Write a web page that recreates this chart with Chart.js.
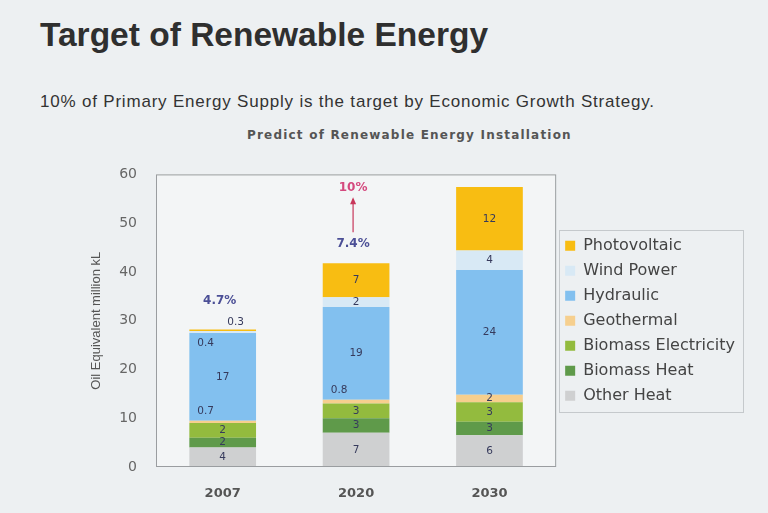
<!DOCTYPE html>
<html>
<head>
<meta charset="utf-8">
<script src="https://cdn.jsdelivr.net/npm/chart.js@4.4.1/dist/chart.umd.min.js"></script>
<style>
  html, body { margin: 0; padding: 0; }
  body {
    width: 768px; height: 513px; overflow: hidden; position: relative;
    background: #edf0f2;
    font-family: "Liberation Sans", Arial, sans-serif;
  }
  #title { position: absolute; left: 40px; top: 16px; font-size: 33.5px; font-weight: bold; color: #2f2f2f; }
  #subtitle { position: absolute; left: 40px; top: 92px; font-size: 17px; letter-spacing: 0.8px; color: #333; }
  #chartTitle {
    position: absolute; left: 247px; top: 128px;
    font-family: "DejaVu Sans", sans-serif; font-weight: bold; font-size: 12px;
    letter-spacing: 1.2px; color: #555;
  }
  #wrap { position: absolute; left: 0; top: 147px; width: 768px; height: 366px; }
</style>
</head>
<body>
<div id="title">Target of Renewable Energy</div>
<div id="subtitle">10% of Primary Energy Supply is the target by Economic Growth Strategy.</div>
<div id="chartTitle">Predict of Renewable Energy Installation</div>
<div id="wrap"><canvas id="chart" width="768" height="366"></canvas></div>

<script>
// 年份
const years = ["2007", "2020", "2030"];

// 各能源的柱高 (原油换算 百万kL)，从图上量出来的
const otherHeat          = [4, 7, 6.5];
const biomassHeat        = [2, 3, 2.8];
const biomassElectricity = [3, 3, 4];
const geothermal         = [0.5, 0.8, 1.5];
const hydraulic          = [18, 19, 25.6];
const windPower          = [0.4, 2, 4];
const photovoltaic       = [0.3, 7, 13];

// 柱子上印的数字 (原图文字)
const otherHeatText   = ["4", "7", "6"];
const biomassHeatText = ["2", "3", "3"];
const biomassElecText = ["2", "3", "3"];
const geothermalText  = ["0.7", "0.8", "2"];
const hydraulicText   = ["17", "19", "24"];
const windText        = ["0.4", "2", "4"];
const pvText          = ["0.3", "7", "12"];

// 柱顶的占比 / 目标
const shareText  = ["4.7%", "7.4%", ""];
const targetText = ["", "10%", ""];

const segmentTexts = [otherHeatText, biomassHeatText, biomassElecText, geothermalText,
                      hydraulicText, windText, pvText];
const HYDRO_INDEX = 4;

// 画图区的底色和边框
const framePlugin = {
  id: "frame",
  beforeDatasetsDraw(chart) {
    const { ctx, chartArea: a } = chart;
    ctx.save();
    ctx.fillStyle = "#f3f5f6";
    ctx.fillRect(a.left, a.top, a.right - a.left, a.bottom - a.top);
    ctx.restore();
  },
  afterDatasetsDraw(chart) {
    const { ctx, chartArea: a } = chart;
    ctx.save();
    ctx.strokeStyle = "#9a9da0";
    ctx.lineWidth = 1;
    ctx.strokeRect(a.left + 0.5, a.top + 0.5, a.right - a.left - 1, a.bottom - a.top - 1);
    ctx.restore();
  }
};

// 图例外框
const legendBoxPlugin = {
  id: "legendBox",
  afterDraw(chart) {
    const lg = chart.legend;
    if (!lg || !lg.legendHitBoxes || !lg.legendHitBoxes.length) return;
    const boxes = lg.legendHitBoxes;
    const x0 = Math.min(...boxes.map(b => b.left)) - 6;
    const x1 = Math.max(...boxes.map(b => b.left + b.width)) + 8;
    const y0 = Math.min(...boxes.map(b => b.top)) - 8;
    const y1 = Math.max(...boxes.map(b => b.top + b.height)) + 8;
    const ctx = chart.ctx;
    ctx.save();
    ctx.strokeStyle = "#c5c9cc";
    ctx.lineWidth = 1;
    ctx.strokeRect(Math.round(x0) + 0.5, Math.round(y0) + 0.5, Math.round(x1 - x0), Math.round(y1 - y0));
    ctx.restore();
  }
};

// 柱内数字 + 顶部百分比 + 箭头
const barLabelPlugin = {
  id: "barLabels",
  afterDatasetsDraw(chart) {
    const ctx = chart.ctx;
    const last = chart.data.datasets.length - 1;
    ctx.save();
    ctx.font = "10.5px 'DejaVu Sans'";
    ctx.fillStyle = "#363a5c";
    ctx.textBaseline = "middle";
    chart.data.datasets.forEach((ds, di) => {
      const meta = chart.getDatasetMeta(di);
      meta.data.forEach((bar, i) => {
        const txt = segmentTexts[di][i];
        if (!txt) return;
        const h = bar.base - bar.y;
        const left = bar.x - bar.width / 2;
        if (h >= 5) {
          ctx.textAlign = "center";
          ctx.fillText(txt, bar.x, (bar.y + bar.base) / 2);
        } else if (di === last) {
          ctx.textAlign = "center";
          ctx.fillText(txt, bar.x + 13, bar.y - 7);
        } else if (di > HYDRO_INDEX) {
          ctx.textAlign = "left";
          ctx.fillText(txt, left + 8, bar.base + 10);
        } else {
          ctx.textAlign = "left";
          ctx.fillText(txt, left + 8, bar.y - 9);
        }
      });
    });

    // 顶部百分比
    const topMeta = chart.getDatasetMeta(last);
    topMeta.data.forEach((bar, i) => {
      if (!shareText[i]) return;
      const smallTop = (bar.base - bar.y) < 5;
      const y = bar.y - 19 - (smallTop ? 10 : 0);
      ctx.font = "bold 12px 'DejaVu Sans'";
      ctx.fillStyle = "#4b4f96";
      ctx.textAlign = "center";
      ctx.fillText(shareText[i], bar.x - 3, y);
      if (targetText[i]) {
        const ty = y - 56;
        ctx.fillStyle = "#d4497e";
        ctx.fillText(targetText[i], bar.x - 3, ty);
        // 箭头
        ctx.strokeStyle = "#c8365a";
        ctx.lineWidth = 1.2;
        ctx.beginPath();
        ctx.moveTo(bar.x - 3, y - 12);
        ctx.lineTo(bar.x - 3, ty + 11);
        ctx.stroke();
        ctx.fillStyle = "#c8365a";
        ctx.beginPath();
        ctx.moveTo(bar.x - 3, ty + 9);
        ctx.lineTo(bar.x - 6, ty + 16);
        ctx.lineTo(bar.x, ty + 16);
        ctx.closePath();
        ctx.fill();
      }
    });
    ctx.restore();
  }
};

function makeSet(label, data, color) {
  return {
    label,
    data,
    backgroundColor: color,
    borderWidth: 0,
    categoryPercentage: 1,
    barPercentage: 0.5
  };
}

const ctx = document.getElementById("chart").getContext("2d");
new Chart(ctx, {
  type: "bar",
  data: {
    labels: years,
    datasets: [
      makeSet("Other Heat", otherHeat, "#cfd0d1"),
      makeSet("Biomass Heat", biomassHeat, "#5f9a4a"),
      makeSet("Biomass Electricity", biomassElectricity, "#93bb3e"),
      makeSet("Geothermal", geothermal, "#f6cf8e"),
      makeSet("Hydraulic", hydraulic, "#82c0ef"),
      makeSet("Wind Power", windPower, "#d8e9f5"),
      makeSet("Photovoltaic", photovoltaic, "#f8bd12")
    ]
  },
  options: {
    responsive: false,
    animation: false,
    layout: { padding: { left: 85, top: 8, bottom: 6, right: 23 } },
    plugins: {
      title: { display: false },
      tooltip: { enabled: false },
      legend: {
        position: "right",
        fullSize: false,
        reverse: true,
        maxWidth: 240,
        labels: {
          boxWidth: 10,
          boxHeight: 10,
          padding: 9,
          color: "#444",
          font: { family: "DejaVu Sans", size: 16 }
        }
      }
    },
    scales: {
      x: {
        stacked: true,
        grid: { display: false, drawTicks: false },
        border: { display: false },
        ticks: {
          color: "#555",
          padding: 19,
          font: { family: "DejaVu Sans", size: 13, weight: "bold" }
        },
        afterFit(scale) { scale.height = 40; }
      },
      y: {
        stacked: true,
        min: 0,
        max: 60,
        grid: { display: false, drawTicks: false },
        border: { display: false },
        ticks: {
          stepSize: 10,
          color: "#666",
          padding: 19,
          font: { family: "DejaVu Sans", size: 14 }
        },
        title: {
          display: true,
          text: "Oil Equivalent million kL",
          color: "#555",
          padding: { top: 4, bottom: 0 },
          font: { family: "Liberation Sans", size: 13 }
        },
        afterFit(scale) { scale.width = 71; }
      }
    }
  },
  plugins: [framePlugin, legendBoxPlugin, barLabelPlugin]
});
</script>
</body>
</html>
